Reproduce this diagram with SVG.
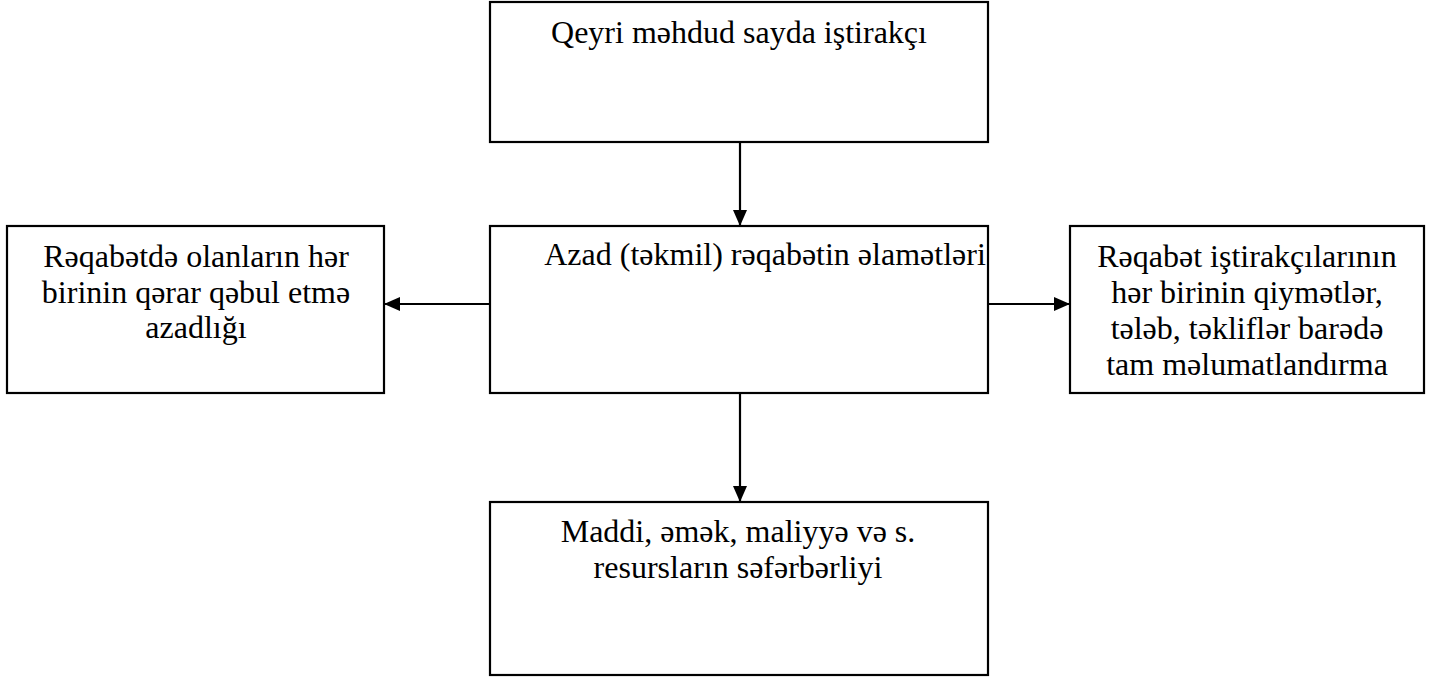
<svg xmlns="http://www.w3.org/2000/svg" width="1440" height="677" viewBox="0 0 1440 677">
<defs>
<style>
.box{fill:#fff;stroke:#000;stroke-width:2.2}
.t{font-family:"Liberation Serif","DejaVu Serif","Times New Roman",serif;font-size:32px;fill:#000;text-anchor:middle}
.c{stroke:#000;stroke-width:2.2;fill:none}
</style>
<marker id="ah2" markerWidth="16" markerHeight="14" refX="16" refY="7" orient="auto" markerUnits="userSpaceOnUse" viewBox="0 0 16 14">
<path d="M0,0 L16,7 L0,14 Z" fill="#000"/>
</marker>
</defs>
<rect width="1440" height="677" fill="#fff"/>
<g id="connectors">
<line class="c" x1="740" y1="142" x2="740" y2="226" marker-end="url(#ah2)"/>
<line class="c" x1="490" y1="304" x2="384" y2="304" marker-end="url(#ah2)"/>
<line class="c" x1="988" y1="304" x2="1070" y2="304" marker-end="url(#ah2)"/>
<line class="c" x1="740" y1="393" x2="740" y2="502" marker-end="url(#ah2)"/>
</g>
<g id="top">
<rect class="box" x="490" y="2" width="498" height="140"/>
<text class="t" x="739" y="43">Qeyri məhdud sayda iştirakçı</text>
</g>
<g id="center">
<rect class="box" x="490" y="226" width="498" height="167"/>
<text class="t" x="765" y="265">Azad (təkmil) rəqabətin əlamətləri</text>
</g>
<g id="left">
<rect class="box" x="7" y="226" width="377" height="167"/>
<text class="t" x="196" y="267">Rəqabətdə olanların hər</text>
<text class="t" x="196" y="303">birinin qərar qəbul etmə</text>
<text class="t" x="196" y="338">azadlığı</text>
</g>
<g id="right">
<rect class="box" x="1070" y="226" width="354" height="167"/>
<text class="t" x="1247" y="267">Rəqabət iştirakçılarının</text>
<text class="t" x="1247" y="303">hər birinin qiymətlər,</text>
<text class="t" x="1247" y="339">tələb, təkliflər barədə</text>
<text class="t" x="1247" y="375">tam məlumatlandırma</text>
</g>
<g id="bottom">
<rect class="box" x="490" y="502" width="498" height="173"/>
<text class="t" x="738" y="542">Maddi, əmək, maliyyə və s.</text>
<text class="t" x="738" y="578">resursların səfərbərliyi</text>
</g>
</svg>
